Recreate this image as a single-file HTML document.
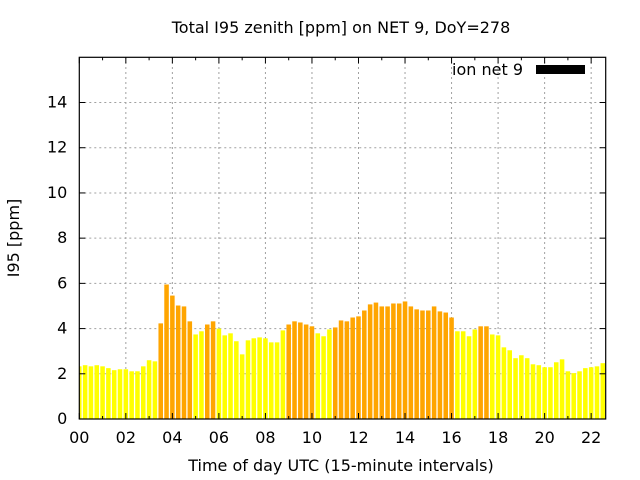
<!DOCTYPE html>
<html><head><meta charset="utf-8"><style>
body{margin:0;background:#fff;}
svg{display:block;font-family:"DejaVu Sans","Liberation Sans",sans-serif;}
</style></head><body>
<svg id="chart" width="640" height="480" viewBox="0 0 640 480">
<rect width="640" height="480" fill="#fff"/>
<text x="341" y="33" font-size="16" text-anchor="middle">Total I95 zenith [ppm] on NET 9, DoY=278</text>
<text x="341" y="471" font-size="16" text-anchor="middle">Time of day UTC (15-minute intervals)</text>
<text x="19" y="238" font-size="16" text-anchor="middle" transform="rotate(-90 19 238)">I95 [ppm]</text>
<defs><clipPath id="pc"><rect x="79.3" y="57.3" width="526.4" height="361.7"/></clipPath></defs>
<g id="grid"></g>
<g id="bars" clip-path="url(#pc)"></g>
<g id="axes"></g>
<g>
<text x="523" y="75" font-size="16" text-anchor="end">ion net 9</text>
<rect x="536" y="65" width="49" height="9" fill="#000"/>
</g>
</svg>
<script>
const values=[2.33,2.38,2.33,2.38,2.33,2.25,2.16,2.2,2.2,2.11,2.11,2.33,2.6,2.55,4.23,5.95,5.46,5.02,4.98,4.32,3.74,3.88,4.18,4.32,4.0,3.7,3.79,3.44,2.86,3.48,3.57,3.61,3.57,3.39,3.39,3.92,4.18,4.32,4.27,4.18,4.1,3.79,3.66,3.96,4.05,4.36,4.32,4.49,4.54,4.8,5.07,5.15,4.98,4.98,5.11,5.11,5.2,4.98,4.85,4.8,4.8,4.98,4.76,4.71,4.49,3.88,3.88,3.66,3.96,4.1,4.1,3.74,3.7,3.17,3.04,2.69,2.82,2.69,2.42,2.38,2.29,2.29,2.51,2.64,2.11,2.03,2.11,2.25,2.29,2.33,2.47,2.55];
const highlighted=[0,0,0,0,0,0,0,0,0,0,0,0,0,0,1,1,1,1,1,1,0,0,1,1,0,0,0,0,0,0,0,0,0,0,0,0,1,1,1,1,1,0,0,0,1,1,1,1,1,1,1,1,1,1,1,1,1,1,1,1,1,1,1,1,1,0,0,0,0,1,1,0,0,0,0,0,0,0,0,0,0,0,0,0,0,0,0,0,0,0,0,0];
const yTicks=[0,2,4,6,8,10,12,14];
const xTickLabels=["00","02","04","06","08","10","12","14","16","18","20","22"];
const X0=79.3,X1=605.7,Y0=419,Y1=57.3,HMAX=22.625,VMAX=16;
const NS="http://www.w3.org/2000/svg";
const xs=h=>X0+(h/HMAX)*(X1-X0);
const ys=v=>Y0-(v/VMAX)*(Y0-Y1);
function mk(t,a,p){const e=document.createElementNS(NS,t);for(const k in a)e.setAttribute(k,a[k]);p.appendChild(e);return e;}
const grid=document.getElementById('grid'),bars=document.getElementById('bars'),axes=document.getElementById('axes');
yTicks.forEach(v=>{
 if(v>0){const l=mk('line',{x1:X0,x2:X1,y1:ys(v),y2:ys(v),stroke:'#a0a0a0','stroke-dasharray':'2,3','stroke-width':1},grid);
 
 }
 const t=mk('text',{x:X0-12,y:ys(v)+5,'font-size':16,'text-anchor':'end'},axes);t.textContent=v;
 
 
 mk('line',{x1:X0,x2:X0+6,y1:ys(v),y2:ys(v),stroke:'#000'},axes);
 mk('line',{x1:X1,x2:X1-6,y1:ys(v),y2:ys(v),stroke:'#000'},axes);
});
xTickLabels.forEach((s,i)=>{
 const h=i*2,x=xs(h);
 if(h>0){const l=mk('line',{x1:x,x2:x,y1:Y0,y2:Y1,stroke:'#a0a0a0','stroke-dasharray':'2,3','stroke-width':1},grid);
 
 }
 const t=mk('text',{x:x,y:Y0+24,'font-size':16,'text-anchor':'middle'},axes);t.textContent=s;
 
 
});
for(let h=0;h<=22;h++){const x=xs(h),L=h%2?3:6;
 mk('line',{x1:x,x2:x,y1:Y0,y2:Y0-L,stroke:'#000'},axes);
 mk('line',{x1:x,x2:x,y1:Y1,y2:Y1+L,stroke:'#000'},axes);}
const pitch=xs(0.25)-xs(0),bw=pitch*0.78;
values.forEach((v,i)=>{
 const cx=xs(i*0.25);
 const r=mk('rect',{x:cx-bw/2,y:ys(v),width:bw,height:Y0-ys(v),fill:highlighted[i]?'#ffa500':'#ffff00'},bars);
 
 
});
const f=mk('rect',{x:X0,y:Y1,width:X1-X0,height:Y0-Y1,fill:'none',stroke:'#000','stroke-width':1.2},axes);


</script>
</body></html>
